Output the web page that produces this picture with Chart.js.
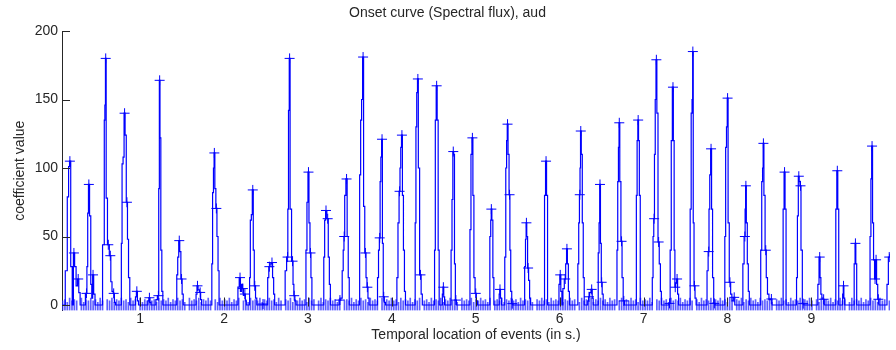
<!DOCTYPE html>
<html>
<head>
<meta charset="utf-8">
<title>Onset curve</title>
<script src="https://cdn.jsdelivr.net/npm/chart.js"></script>
<style>
    body { margin: 0; background: #fff; }
    #wrap { width: 896px; height: 350px; }
</style>
</head>
<body>
<div id="wrap"><canvas id="onsetChart" width="896" height="350"></canvas></div>
<script>
// onset curve, [time in s, coefficient], one row per bump
const onsetCurve = [
    [0.068,0],
    [0.091,0],[0.123,25],[0.139,79],[0.154,101],[0.162,105],[0.182,28],[0.198,0],[0.210,38],[0.227,28],[0.245,14],[0.261,19],[0.275,9],[0.293,0],
    [0.334,0],[0.360,8.5],[0.370,28],[0.379,67],[0.388,88],[0.405,65],[0.417,15],[0.429,5],[0.438,22],[0.453,8],[0.470,0],
    [0.550,0],[0.553,44],[0.569,44],[0.575,135],[0.583,146],[0.589,180],[0.600,78],[0.620,44],[0.644,36],[0.656,17],[0.672,10],[0.684,8.5],[0.701,2],[0.713,0],
    [0.773,0],[0.778,45],[0.790,103],[0.802,108],[0.814,140],[0.826,124],[0.842,75],[0.855,48],[0.867,20],[0.885,0],
    [0.938,0],[0.950,6],[0.960,10],[0.974,3],[0.986,0],
    [1.086,0],[1.098,3],[1.110,5.3],[1.122,2],[1.134,0],[1.181,0],[1.193,4],[1.217,6.8],[1.225,85],[1.232,164],[1.240,122],[1.252,40],[1.264,10],[1.276,0],
    [1.430,0],[1.442,22],[1.453,35],[1.466,47],[1.477,39],[1.493,19],[1.507,8],[1.519,0],
    [1.661,0],[1.671,8],[1.683,14],[1.697,11],[1.715,9.2],[1.726,4],[1.738,0],
    [1.851,0],[1.857,30],[1.869,82],[1.878,100],[1.884,111],[1.896,85],[1.908,70.5],[1.922,50],[1.934,25],[1.946,0],
    [2.159,0],[2.171,13],[2.190,20],[2.200,10],[2.212,15],[2.224,12],[2.236,7],[2.248,8],[2.259,3],[2.271,0],
    [2.301,0],[2.307,20],[2.319,62],[2.331,66],[2.342,84],[2.354,40],[2.366,14],[2.384,5],[2.396,0],
    [2.452,0],[2.464,0.7],[2.479,0],
    [2.514,0],[2.526,20],[2.540,28],[2.556,30],[2.571,31],[2.585,20],[2.597,8],[2.609,0],
    [2.722,0],[2.734,25],[2.757,35],[2.763,70],[2.773,142],[2.781,180],[2.793,70],[2.816,32],[2.828,15],[2.836,6.8],[2.852,3],[2.863,0],
    [2.970,0],[2.982,40],[2.994,75],[3.006,97],[3.018,60],[3.030,38],[3.041,20],[3.053,0],
    [3.184,0],[3.193,35],[3.205,62],[3.215,69],[3.235,63],[3.249,35],[3.261,15],[3.273,0],
    [3.361,0],[3.381,3.6],[3.402,5],[3.414,25],[3.426,40],[3.432,50],[3.444,80],[3.460,92],[3.474,50],[3.486,20],[3.498,0],
    [3.610,0],[3.622,95],[3.634,135],[3.645,150],[3.657,181],[3.669,72],[3.685,38],[3.699,20],[3.708,13],[3.722,5],[3.734,0],
    [3.823,0],[3.835,20],[3.847,40],[3.855,49],[3.865,90],[3.873,108],[3.883,121],[3.892,45],[3.903,6],[3.918,2],[3.930,0],
    [4.054,0],[4.066,20],[4.080,60],[4.092,83],[4.102,100],[4.110,115],[4.120,124],[4.132,80],[4.144,40],[4.156,10],[4.168,0],
    [4.274,0],[4.282,60],[4.292,130],[4.301,155],[4.310,165],[4.321,100],[4.341,22],[4.357,8],[4.369,0],
    [4.505,0],[4.513,40],[4.523,135],[4.534,160],[4.546,135],[4.558,40],[4.570,0],[4.599,0],[4.605,8],[4.614,13],[4.623,6],[4.635,0],
    [4.700,0],[4.712,40],[4.722,77],[4.732,112],[4.742,110],[4.751,30],[4.763,3.6],[4.777,0],
    [4.925,0],[4.937,55],[4.949,110],[4.960,122],[4.972,80],[4.984,20],[5.000,8.5],[5.014,3],[5.026,0],
    [5.162,0],[5.174,50],[5.183,62],[5.186,70],[5.198,62],[5.210,20],[5.222,0],[5.275,0],[5.284,8],[5.289,11.4],[5.301,5],[5.310,0],
    [5.340,0],[5.352,35],[5.364,100],[5.372,120],[5.379,132],[5.391,110],[5.403,80.5],[5.411,40],[5.423,10],[5.435,1],[5.447,0],
    [5.577,0],[5.589,28],[5.597,48],[5.604,60],[5.612,50],[5.624,27],[5.636,18],[5.648,5],[5.660,0],
    [5.814,0],[5.826,80],[5.838,105],[5.850,80],[5.862,0],
    [5.986,0],[5.998,15],[6.007,22],[6.021,10],[6.033,0],[6.045,12],[6.066,19],[6.078,30],[6.087,41],[6.098,30],[6.110,10],[6.122,0],
    [6.211,0],[6.223,30],[6.232,60],[6.240,80.5],[6.246,100],[6.252,127],[6.264,110],[6.276,60],[6.287,20],[6.299,0],
    [6.329,0],[6.341,3],[6.350,6],[6.365,9],[6.382,11.4],[6.394,5],[6.406,0],
    [6.454,0],[6.466,38],[6.474,60],[6.481,88],[6.492,45],[6.501,16.6],[6.513,8],[6.525,0],
    [6.679,0],[6.688,40],[6.697,90],[6.705,115],[6.711,133],[6.723,90],[6.738,46.5],[6.750,20],[6.765,3],[6.780,0],
    [6.910,0],[6.919,80],[6.928,120],[6.936,135],[6.945,120],[6.955,80],[6.967,0],
    [7.100,0],[7.109,20],[7.118,50],[7.126,63],[7.135,110],[7.144,150],[7.153,179],[7.165,140],[7.180,46],[7.195,30],[7.207,10],[7.218,0],
    [7.295,0],[7.310,1.2],[7.325,40],[7.336,120],[7.351,159],[7.360,120],[7.370,40],[7.378,13],[7.390,16],[7.400,19],[7.412,8],[7.424,0],
    [7.550,0],[7.562,70],[7.574,140],[7.583,150],[7.588,185],[7.597,60],[7.607,14],[7.621,5],[7.633,0],
    [7.751,0],[7.763,25],[7.777,39],[7.784,70],[7.795,95],[7.805,114],[7.817,70],[7.829,20],[7.844,1.2],[7.858,0],
    [7.964,0],[7.974,50],[7.984,115],[7.994,130],[8.002,151],[8.014,60],[8.030,16.6],[8.047,8],[8.059,3],[8.081,5.6],[8.095,0],
    [8.178,0],[8.190,30],[8.208,50],[8.214,70],[8.220,87],[8.231,60],[8.243,30],[8.255,10],[8.267,0],
    [8.391,0],[8.403,40],[8.415,90],[8.423,100],[8.429,118],[8.441,80],[8.457,40],[8.469,20],[8.486,8],[8.504,4],[8.524,4.4],[8.539,0],
    [8.658,0],[8.670,70],[8.681,97],[8.693,70],[8.705,0],
    [8.818,0],[8.830,20],[8.839,65],[8.851,94],[8.859,90],[8.871,87],[8.883,40],[8.903,1],[8.918,0],
    [9.072,0],[9.084,15],[9.100,35],[9.108,20],[9.120,8],[9.132,5],[9.147,4.2],[9.161,0],
    [9.286,0],[9.298,70],[9.310,98],[9.321,70],[9.333,0],[9.369,0],[9.378,8],[9.384,14],[9.392,5],[9.404,0],
    [9.505,0],[9.517,30],[9.526,45],[9.535,30],[9.547,0],
    [9.694,0],[9.706,50],[9.715,92],[9.724,116],[9.736,60],[9.748,33],[9.760,19],[9.772,33],[9.784,15],[9.799,4.2],[9.813,0],
    [9.896,0],[9.908,15],[9.929,35],[9.943,37],[9.960,20]
];

// detected events (the + marks)
const peakPoints = [
    [0.162,105],[0.210,38],[0.261,19],[0.360,8.5],[0.388,88],[0.438,22],[0.589,180],[0.620,44],[0.644,36],[0.684,8.5],
    [0.814,140],[0.842,75],[0.960,10],[1.110,5.3],[1.217,6.8],[1.232,164],[1.466,47],[1.493,19],[1.683,14],[1.715,9.2],
    [1.884,111],[1.908,70.5],[2.190,20],[2.224,12],[2.248,8],[2.342,84],[2.366,14],[2.464,0.7],[2.540,28],[2.571,31],
    [2.757,35],[2.781,180],[2.816,32],[2.836,6.8],[3.006,97],[3.030,38],[3.215,69],[3.235,63],[3.381,3.6],[3.432,50],
    [3.460,92],[3.657,181],[3.685,38],[3.708,13],[3.855,49],[3.883,121],[3.903,6],[4.092,83],[4.120,124],[4.310,165],
    [4.341,22],[4.534,160],[4.614,13],[4.732,112],[4.763,3.6],[4.960,122],[5.000,8.5],[5.186,70],[5.289,11.4],[5.379,132],
    [5.403,80.5],[5.435,1],[5.604,60],[5.624,27],[5.838,105],[6.007,22],[6.066,19],[6.087,41],[6.240,80.5],[6.252,127],
    [6.350,6],[6.382,11.4],[6.481,88],[6.501,16.6],[6.711,133],[6.738,46.5],[6.765,3],[6.936,135],[7.126,63],[7.153,179],
    [7.180,46],[7.310,1.2],[7.351,159],[7.378,13],[7.400,19],[7.588,185],[7.607,14],[7.777,39],[7.805,114],[7.844,1.2],
    [8.002,151],[8.030,16.6],[8.081,5.6],[8.208,50],[8.220,87],[8.429,118],[8.457,40],[8.524,4.4],[8.681,97],[8.851,94],
    [8.871,87],[8.903,1],[9.100,35],[9.147,4.2],[9.310,98],[9.384,14],[9.526,45],[9.724,116],[9.760,19],[9.772,33],
    [9.799,4.2],[9.929,35]
];

// low level flicker along the floor, one digit per frame ('.' = nothing)
const noiseStart = 0.075;
const noiseStep = 0.028;
const noiseLevels = [
    '3425343.5243534253.4352435342534.5243534253435243',
    '5342.5343524353.42534352435.34253435243534253.435',
    '2435342534.3524353425.343524353425343.5243534253',
    '4352435.342534352435342.5343524353425.3435243534',
    '2534352.43534253435243534.2534352435342534.35243',
    '5342534352.4353425343524353.4253435243534253.435',
    '2435342534352.4353425343524353.4253435243534.253',
    '4352435342534.3524353425343524.353425343524353425'
];

const xTickLabels = [1, 2, 3, 4, 5, 6, 7, 8, 9];
const yTickLabels = [0, 50, 100, 150, 200];

const inkColor = '#262626';
Chart.defaults.font.family = '"Liberation Sans", Arial, sans-serif';
Chart.defaults.font.size = 14;
Chart.defaults.color = inkColor;

const curveData = onsetCurve.map(p => ({ x: p[0], y: p[1] }));
const peakData = peakPoints.map(p => ({ x: p[0], y: p[1] }));
const noiseData = [];
noiseLevels.join('').split('').forEach((c, i) => {
    if (c !== '.') {
        noiseData.push({ x: noiseStart + i * noiseStep, y: Number(c) });
    }
});

// matlab style ticks pointing into the plot
const innerTicks = {
    id: 'innerTicks',
    afterDraw(chart) {
        const ctx = chart.ctx;
        const area = chart.chartArea;
        const xs = chart.scales.x;
        const ys = chart.scales.y;
        ctx.save();
        ctx.strokeStyle = inkColor;
        ctx.lineWidth = 1;
        ctx.beginPath();
        xTickLabels.forEach(v => {
            const px = Math.round(xs.getPixelForValue(v)) + 0.5;
            ctx.moveTo(px, area.bottom - 4);
            ctx.lineTo(px, area.bottom - 13);
        });
        yTickLabels.forEach(v => {
            const py = Math.round(ys.getPixelForValue(v)) + 0.5;
            ctx.moveTo(area.left, py);
            ctx.lineTo(area.left + 8, py);
        });
        ctx.stroke();
        ctx.restore();
    }
};

const ctx = document.getElementById('onsetChart').getContext('2d');
new Chart(ctx, {
    type: 'line',
    data: {
        datasets: [
            {
                type: 'scatter',
                label: 'events',
                data: peakData,
                pointStyle: 'cross',
                pointRadius: 5,
                borderColor: '#0000ff',
                backgroundColor: '#0000ff',
                borderWidth: 1,
                showLine: false,
                order: 0
            },
            {
                type: 'line',
                label: 'onset curve',
                data: curveData,
                borderColor: '#0000ff',
                borderWidth: 1.2,
                pointRadius: 0,
                stepped: 'middle',
                fill: false,
                order: 1
            },
            {
                type: 'bar',
                label: 'floor',
                data: noiseData,
                base: -4,
                backgroundColor: 'rgba(40, 40, 255, 0.75)',
                borderWidth: 0,
                barThickness: 1,
                order: 2
            }
        ]
    },
    options: {
        responsive: false,
        animation: false,
        layout: { padding: { left: 0, right: 1, top: 0, bottom: 0 } },
        plugins: {
            legend: { display: false },
            tooltip: { enabled: false },
            title: {
                display: true,
                text: 'Onset curve (Spectral flux), aud',
                color: inkColor,
                font: { size: 14, weight: 'normal' },
                padding: { top: 4.6, bottom: 9.6 }
            }
        },
        scales: {
            x: {
                type: 'linear',
                min: 0.068,
                max: 9.938,
                offset: false,
                grid: { display: false, drawTicks: false, offset: false },
                border: { display: false },
                ticks: { padding: 0, color: inkColor },
                afterBuildTicks: function(scale) {
                    scale.ticks = xTickLabels.map(v => ({ value: v }));
                },
                afterFit: function(scale) {
                    scale.height = 39.5;
                },
                title: {
                    display: true,
                    text: 'Temporal location of events (in s.)',
                    color: inkColor,
                    padding: { top: 0, bottom: 6 }
                }
            },
            y: {
                type: 'linear',
                min: -4,
                max: 200,
                grid: { display: false, drawTicks: false },
                border: { display: true, color: inkColor },
                ticks: { padding: 4, color: inkColor },
                afterBuildTicks: function(scale) {
                    scale.ticks = yTickLabels.map(v => ({ value: v }));
                },
                afterFit: function(scale) {
                    scale.width = 62;
                },
                title: {
                    display: true,
                    text: 'coefficient value',
                    color: inkColor,
                    padding: { top: 12, bottom: 0 }
                }
            }
        }
    },
    plugins: [innerTicks]
});
</script>
</body>
</html>
